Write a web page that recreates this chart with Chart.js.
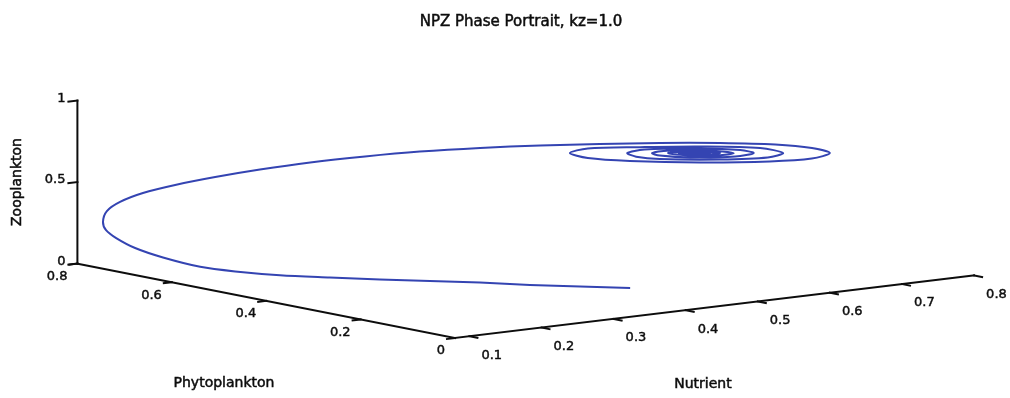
<!DOCTYPE html>
<html>
<head>
<meta charset="utf-8">
<script src="https://cdn.jsdelivr.net/npm/chart.js@4/dist/chart.umd.min.js"></script>
<style>
  html, body { margin: 0; padding: 0; background: #ffffff; }
  #wrap { width: 1010px; height: 398px; }
</style>
</head>
<body>
<div id="wrap"><canvas id="npzChart" width="1010" height="398"></canvas></div>
<script>
// NPZ trajectory, kz = 1.0 (nutrient, phytoplankton, zooplankton)
const nutrient = [
    0.355, 0.300, 0.250, 0.205, 0.165, 0.135, 0.110, 0.090, 0.075, 0.065,
    0.058, 0.054, 0.052, 0.051, 0.052, 0.060, 0.075, 0.095, 0.120, 0.150,
    0.180, 0.215, 0.255, 0.295, 0.340, 0.380, 0.440, 0.490, 0.540, 0.585,
    0.615, 0.630, 0.601, 0.557, 0.484, 0.411, 0.367, 0.348, 0.367, 0.421,
    0.484, 0.547, 0.571, 0.555, 0.505, 0.442, 0.417, 0.408, 0.426, 0.484,
    0.526, 0.540, 0.521, 0.474, 0.442, 0.434, 0.453, 0.489, 0.519, 0.489,
    0.451, 0.479, 0.505, 0.481, 0.462, 0.480, 0.494, 0.480, 0.469, 0.480
];
const phyto = [
    0.049, 0.071, 0.101, 0.138, 0.183, 0.243, 0.311, 0.386, 0.458, 0.517,
    0.585, 0.638, 0.675, 0.695, 0.703, 0.707, 0.702, 0.684, 0.654, 0.615,
    0.566, 0.513, 0.458, 0.403, 0.344, 0.278, 0.243, 0.192, 0.141, 0.093,
    0.061, 0.046, 0.040, 0.062, 0.098, 0.135, 0.157, 0.166, 0.157, 0.129,
    0.098, 0.067, 0.055, 0.063, 0.088, 0.119, 0.131, 0.136, 0.127, 0.098,
    0.077, 0.070, 0.080, 0.103, 0.119, 0.123, 0.114, 0.095, 0.080, 0.095,
    0.115, 0.101, 0.088, 0.100, 0.109, 0.100, 0.093, 0.100, 0.105, 0.100
];
const zoo = [
    0.132, 0.158, 0.177, 0.195, 0.200, 0.191, 0.178, 0.160, 0.150, 0.150,
    0.172, 0.202, 0.243, 0.281, 0.326, 0.386, 0.437, 0.491, 0.544, 0.599,
    0.657, 0.712, 0.759, 0.799, 0.831, 0.862, 0.859, 0.868, 0.870, 0.864,
    0.845, 0.815, 0.800, 0.793, 0.805, 0.832, 0.861, 0.897, 0.920, 0.915,
    0.903, 0.878, 0.841, 0.818, 0.818, 0.837, 0.858, 0.882, 0.899, 0.891,
    0.871, 0.849, 0.832, 0.838, 0.858, 0.875, 0.886, 0.880, 0.854, 0.843,
    0.871, 0.877, 0.858, 0.852, 0.868, 0.870, 0.860, 0.858, 0.867, 0.864
];

// axis limits and ticks of the 3-D box
const nRange = [0.08, 0.8];
const pRange = [0, 0.8];
const zRange = [0, 1];
const nTicks = [0.1, 0.2, 0.3, 0.4, 0.5, 0.6, 0.7, 0.8];
const pTicks = [0, 0.2, 0.4, 0.6, 0.8];
const zTicks = [0, 0.5, 1];

const titleText = 'NPZ Phase Portrait, kz=1.0';
const nLabel = 'Nutrient';
const pLabel = 'Phytoplankton';
const zLabel = 'Zooplankton';

// oblique view: nutrient runs right/up, phytoplankton left/up, zooplankton up
function project(n, p, z) {
    const dn = n - nRange[0];
    return {
        x: 455 + 721 * dn - 472 * p,
        y: 338 - 87 * dn - 93 * p - 163 * z
    };
}

const trajectory = nutrient.map(function (n, i) {
    return project(n, phyto[i], zoo[i]);
});

const INK = '#0d0d0d';
const FONT = '"DejaVu Sans", Verdana, sans-serif';

// draws the box axes, ticks, labels and title with the chart's own scales
const npzAxes = {
    id: 'npzAxes',
    beforeDatasetsDraw(chart) {
        const c = chart.ctx;
        const sx = chart.scales.x, sy = chart.scales.y;
        const px = function (pt) {
            return { x: sx.getPixelForValue(pt.x), y: sy.getPixelForValue(pt.y) };
        };
        const line = function (a, b) {
            c.beginPath();
            c.moveTo(a.x, a.y);
            c.lineTo(b.x, b.y);
            c.stroke();
        };
        // slightly heavier text, like the printed figure
        const text = function (s, x, y) {
            c.fillText(s, x, y);
            c.strokeText(s, x, y);
        };

        c.save();
        c.strokeStyle = INK;
        c.fillStyle = INK;
        c.lineWidth = 2;
        c.lineCap = 'square';

        // axis lines
        line(px(project(nRange[0], 0, 0)), px(project(nRange[1], 0, 0)));
        line(px(project(nRange[0], pRange[0], 0)), px(project(nRange[0], pRange[1], 0)));
        line(px(project(nRange[0], pRange[1], zRange[0])), px(project(nRange[0], pRange[1], zRange[1])));

        c.textBaseline = 'middle';

        // nutrient ticks hang toward -P
        nTicks.forEach(function (t) {
            const a = px(project(t, 0, 0));
            c.lineWidth = 2;
            line(a, { x: a.x + 8, y: a.y + 1.6 });
        });
        pTicks.forEach(function (t) {
            const a = px(project(nRange[0], t, 0));
            line(a, { x: a.x - 8, y: a.y + 1 });
        });
        zTicks.forEach(function (t) {
            const a = px(project(nRange[0], pRange[1], t));
            line(a, { x: a.x - 9, y: a.y + 1 });
        });

        c.font = '13px ' + FONT;
        c.lineWidth = 0.45;
        c.textAlign = 'left';
        nTicks.forEach(function (t) {
            const a = px(project(t, 0, 0));
            text(String(t), a.x + 12, a.y + 19);
        });
        c.textAlign = 'right';
        pTicks.forEach(function (t) {
            const a = px(project(nRange[0], t, 0));
            text(String(t), a.x - 10, a.y + 13);
        });
        zTicks.forEach(function (t) {
            const a = px(project(nRange[0], pRange[1], t));
            text(String(t), a.x - 12, a.y - 2);
        });

        // axis titles
        c.font = '14px ' + FONT;
        c.lineWidth = 0.5;
        c.textAlign = 'center';
        text(nLabel, 703, 384);
        text(pLabel, 224, 383);
        c.save();
        c.translate(17, 182);
        c.rotate(-Math.PI / 2);
        text(zLabel, 0, 0);
        c.restore();

        c.font = '15px ' + FONT;
        text(titleText, 521, 22);
        c.restore();
    }
};

const ctx = document.getElementById('npzChart').getContext('2d');
const npzChart = new Chart(ctx, {
    type: 'scatter',
    data: {
        datasets: [{
            data: trajectory,
            showLine: true,
            borderColor: '#3444b2',
            borderWidth: 2,
            pointRadius: 0,
            tension: 0.3,
            fill: false
        }]
    },
    options: {
        responsive: false,
        animation: false,
        layout: { padding: 0 },
        plugins: {
            legend: { display: false },
            tooltip: { enabled: false },
            title: { display: false }
        },
        scales: {
            x: { type: 'linear', min: 0, max: 1010, display: false },
            y: { type: 'linear', min: 0, max: 398, reverse: true, display: false }
        }
    },
    plugins: [npzAxes]
});
</script>
</body>
</html>
